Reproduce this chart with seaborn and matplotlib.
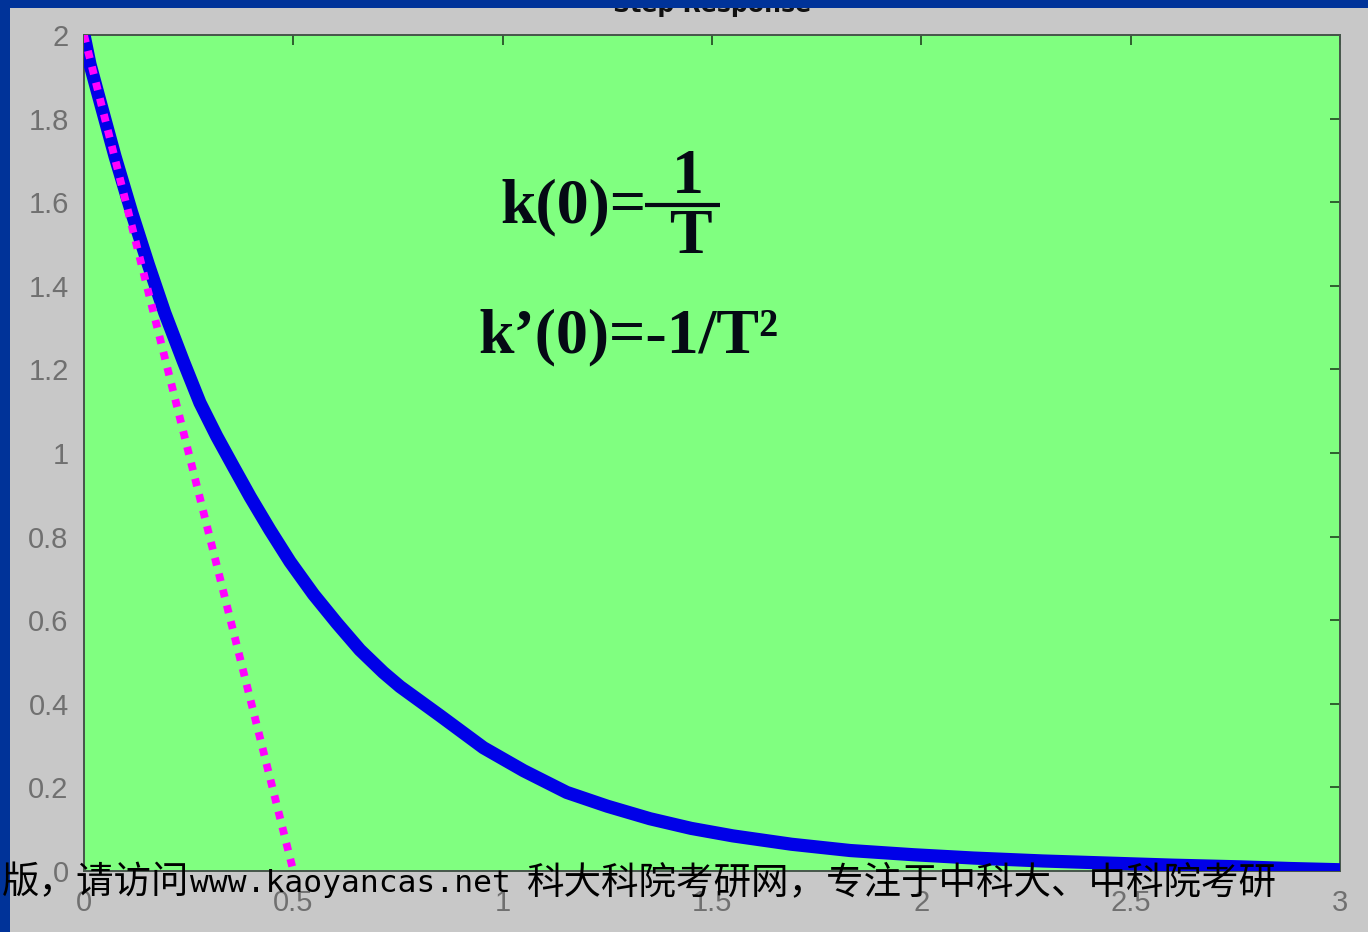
import matplotlib
matplotlib.use("Agg")
import matplotlib.pyplot as plt
from matplotlib.patches import Rectangle
from matplotlib.lines import Line2D
import seaborn as sns
import pandas as pd

# Impulse response k(t) of a first-order system (T = 0.5)
t_values = [0.0, 0.0143, 0.04, 0.074, 0.114, 0.154, 0.193, 0.237, 0.277, 0.317,
            0.357, 0.397, 0.444, 0.492, 0.548, 0.604, 0.659, 0.715, 0.755, 0.85,
            0.954, 1.05, 1.153, 1.25, 1.352, 1.45, 1.55, 1.69, 1.83, 1.98,
            2.125, 2.29, 2.445, 2.6, 2.76, 2.88, 3.0]
k_values = [2.0, 1.93, 1.835, 1.71, 1.575, 1.45, 1.335, 1.22, 1.12, 1.04,
            0.967, 0.895, 0.816, 0.74, 0.662, 0.593, 0.529, 0.475, 0.441, 0.372,
            0.295, 0.24, 0.188, 0.155, 0.125, 0.102, 0.084, 0.064, 0.049, 0.039,
            0.031, 0.024, 0.019, 0.014, 0.010, 0.006, 0.003]

# Tangent at t = 0, reaching zero at t = T
tangent_t = [0.0, 0.5]
tangent_k = [2.0, 0.0]

x_ticks = [0, 0.5, 1, 1.5, 2, 2.5, 3]
x_tick_labels = ["0", "0.5", "1", "1.5", "2", "2.5", "3"]
y_ticks = [0, 0.2, 0.4, 0.6, 0.8, 1, 1.2, 1.4, 1.6, 1.8, 2]
y_tick_labels = ["0", "0.2", "0.4", "0.6", "0.8", "1", "1.2", "1.4", "1.6", "1.8", "2"]

title_text = "Step Response"
formula_lhs = "k(0)="
formula_num = "1"
formula_den = "T"
formula_deriv = "k\u2019(0)=-1/T\u00b2"
footer_cjk_a = "版，请访问"
footer_url = "www.kaoyancas.net"
footer_cjk_b = "科大科院考研网，专注于中科大、中科院考研"

sns.set_theme(style="white")
plt.rcParams["font.family"] = ["Liberation Sans", "DejaVu Sans"]

W, H = 1368, 932
fig = plt.figure(figsize=(W / 100, H / 100), dpi=100)
fig.patch.set_facecolor("#C8C8C8")

ax = fig.add_axes([84 / W, 61 / H, 1256 / W, 836 / H])
ax.set_facecolor("#80FF80")

curve = pd.DataFrame({"t": t_values, "k": k_values})
tangent = pd.DataFrame({"t": tangent_t, "k": tangent_k})

sns.lineplot(data=curve, x="t", y="k", ax=ax, color="#0000E8", linewidth=9.5,
             sort=False, estimator=None, legend=False, zorder=3)
ax.lines[-1].set_solid_joinstyle("round")
sns.lineplot(data=tangent, x="t", y="k", ax=ax, color="#FF00FF", linewidth=5.6,
             sort=False, estimator=None, legend=False, zorder=4)
tline = ax.lines[-1]
tline.set_dashes((1.0, 1.1))
tline.set_dash_capstyle("butt")

ax.set_xlim(0, 3)
ax.set_ylim(0, 2)
ax.set_xticks(x_ticks)
ax.set_xticklabels(x_tick_labels)
ax.set_yticks(y_ticks)
ax.set_yticklabels(y_tick_labels)
ax.set_xlabel("")
ax.set_ylabel("")

for side in ["left", "right", "top", "bottom"]:
    ax.spines[side].set_visible(True)
    ax.spines[side].set_color("#46554A")
    ax.spines[side].set_linewidth(1.4)

ax.tick_params(axis="both", which="major", direction="in", length=7, width=1.4,
               color="#2E5F2E", top=True, right=True, labelsize=21,
               labelcolor="#707070")
ax.tick_params(axis="y", pad=11)
ax.tick_params(axis="x", pad=13)

# Formulas
serif = dict(family="Liberation Serif", weight="bold", color="#050A14", fontsize=46)
ax.text(0.9936, 1.5526, formula_lhs, ha="left", va="baseline", **serif)
ax.text(1.4427, 1.622, formula_num, ha="center", va="baseline", **serif)
ax.text(1.4474, 1.4785, formula_den, ha="center", va="baseline", **serif)
ax.add_line(Line2D([1.340, 1.519], [1.5933, 1.5933], color="#050A14",
                   linewidth=3.0, solid_capstyle="butt", zorder=5))
ax.text(0.941, 1.2416, formula_deriv, ha="left", va="baseline", **serif)

# Title, partly hidden under the top frame strip
fig.text(712 / W, 1 - 12 / H, title_text, ha="center", va="baseline",
         fontsize=17, fontweight="bold", family="DejaVu Sans", color="#111111")

# Blue frame strips on the left and top
fig.add_artist(Rectangle((0, 0), 10 / W, 1, transform=fig.transFigure,
                         facecolor="#003399", edgecolor="none", zorder=10))
fig.add_artist(Rectangle((0, 1 - 8 / H), 1, 8 / H, transform=fig.transFigure,
                         facecolor="#003399", edgecolor="none", zorder=10))

# Footer line
fy = 1 - 883 / H
fig.text(2 / W, fy, footer_cjk_a, ha="left", va="center", fontsize=27,
         family=["Noto Sans CJK SC", "DejaVu Sans"], color="black", zorder=20)
fig.text(190 / W, fy, footer_url, ha="left", va="center", fontsize=22.5,
         family=["DejaVu Sans Mono"], color="black", zorder=20)
fig.text(527 / W, fy, footer_cjk_b, ha="left", va="center", fontsize=27,
         family=["Noto Sans CJK SC", "DejaVu Sans"], color="black", zorder=20)

fig.savefig("out.png", dpi=100, facecolor=fig.get_facecolor())
